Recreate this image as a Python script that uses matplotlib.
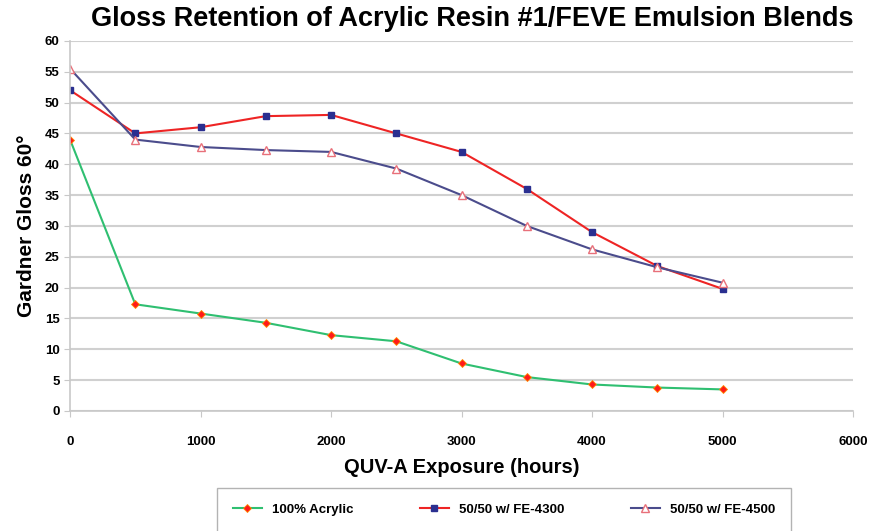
import matplotlib
matplotlib.use("Agg")
import matplotlib.pyplot as plt

plt.rcParams["font.family"] = ["Liberation Sans", "DejaVu Sans"]

hours = [0, 500, 1000, 1500, 2000, 2500, 3000, 3500, 4000, 4500, 5000]
acrylic = [44, 17.3, 15.8, 14.3, 12.3, 11.3, 7.7, 5.5, 4.3, 3.8, 3.5]
fe4300 = [52, 45, 46, 47.8, 48, 45, 42, 36, 29, 23.5, 19.8]
fe4500 = [55.5, 44, 42.8, 42.3, 42, 39.3, 35, 30, 26.2, 23.3, 20.8]
labels = ["100% Acrylic", "50/50 w/ FE-4300", "50/50 w/ FE-4500"]

fig = plt.figure(figsize=(8.69, 5.31), dpi=100)
ax = fig.add_axes([0.0806, 0.226, 0.901, 0.697])

ax.plot(hours, acrylic, color="#2fbf71", lw=1.5, marker="D", ms=4,
        mfc="#ff1a1a", mec="#ff8c00", mew=0.6, label=labels[0])
ax.plot(hours, fe4300, color="#ee2424", lw=1.5, marker="s", ms=5,
        mfc="#2a2f90", mec="#2a2f90", label=labels[1])
ax.plot(hours, fe4500, color="#4b4c8c", lw=1.5, marker="^", ms=6,
        mfc="white", mec="#e8707a", mew=1.0, label=labels[2])

ax.set_xlim(0, 6000)
ax.set_ylim(0, 60)
ax.set_xticks(range(0, 6001, 1000))
ax.set_yticks(range(0, 61, 5))
ax.grid(True, axis="y", color="#d0d0d0", lw=1.5)
ax.set_axisbelow(True)
for s in ["top", "right"]:
    ax.spines[s].set_visible(False)
for s in ["left", "bottom"]:
    ax.spines[s].set_color("#c8c8c8")
    ax.spines[s].set_linewidth(1.2)
ax.tick_params(axis="both", colors="#c8c8c8", labelcolor="black", length=4)
ax.tick_params(axis="x", pad=14)
for lab in ax.get_xticklabels() + ax.get_yticklabels():
    lab.set_fontweight("bold")
    lab.set_fontsize(9.5)

fig.text(0.543, 0.965, "Gloss Retention of Acrylic Resin #1/FEVE Emulsion Blends",
         ha="center", va="center", fontsize=19.5, fontweight="bold")
ax.set_xlabel("QUV-A Exposure (hours)", fontsize=14.5, fontweight="bold", labelpad=7)
ax.set_ylabel("Gardner Gloss 60°", fontsize=15, fontweight="bold", labelpad=6)

leg = fig.legend(loc="center", bbox_to_anchor=(0.58, 0.04), ncol=3, frameon=True,
                 fancybox=False, edgecolor="#a0a0a0",
                 prop={"weight": "bold", "size": 9.5}, handlelength=2.2,
                 columnspacing=5, borderpad=1.2, borderaxespad=0)
leg.get_frame().set_linewidth(1.0)

fig.savefig("out.png", dpi=100)
